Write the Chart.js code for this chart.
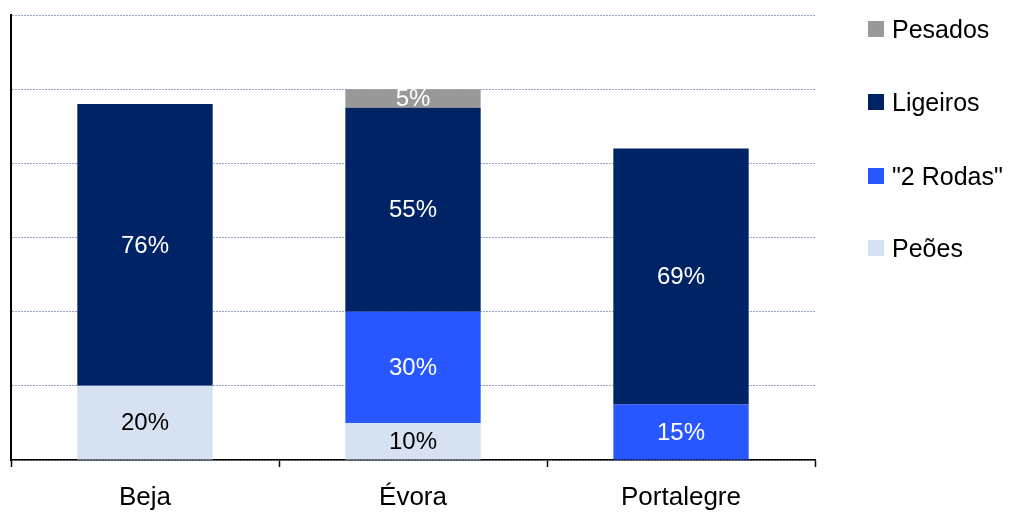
<!DOCTYPE html>
<html>
<head>
<meta charset="utf-8">
<script src="https://cdn.jsdelivr.net/npm/chart.js@4.4.0/dist/chart.umd.min.js"></script>
<style>
  html, body { margin: 0; padding: 0; background: #fff; }
  #wrap { position: relative; width: 1010px; height: 513px; }
  #legend { position: absolute; left: 868px; top: 0; font-family: 'Liberation Sans', Arial, sans-serif; font-size: 25px; color: #000; }
  .lg-item { position: absolute; left: 0; height: 30px; display: flex; align-items: center; white-space: nowrap; }
  .lg-box { width: 16px; height: 16px; margin-right: 8px; flex: none; }
</style>
</head>
<body>
<div id="wrap">
  <canvas id="chart" width="1010" height="513"></canvas>
  <div id="legend"></div>
</div>
<script>
/* ── Data ───────────────────────────────────────────────────── */
const CATEGORIES = ['Beja', 'Évora', 'Portalegre'];
const PEOES      = [20, 10, null];
const DUAS_RODAS = [null, 30, 15];
const LIGEIROS   = [76, 55, 69];
const PESADOS    = [null, 5, null];
const Y_TICKS    = [0, 20, 40, 60, 80, 100, 120];

/* ── Series (bottom → top) ──────────────────────────────────── */
const SERIES = [
  { label: 'Peões',      data: PEOES,      color: '#d6e2f2', text: '#000000' },
  { label: '"2 Rodas"',  data: DUAS_RODAS, color: '#2957ff', text: '#ffffff' },
  { label: 'Ligeiros',   data: LIGEIROS,   color: '#002366', text: '#ffffff' },
  { label: 'Pesados',    data: PESADOS,    color: '#999999', text: '#ffffff' },
];

const FONT = "'Liberation Sans', Arial, sans-serif";

/* ── Value labels inside each segment ───────────────────────── */
const segmentLabels = {
  id: 'segmentLabels',
  afterDatasetsDraw(chart) {
    const { ctx } = chart;
    ctx.save();
    ctx.font = `24px ${FONT}`;
    ctx.textAlign = 'center';
    ctx.textBaseline = 'middle';
    chart.data.datasets.forEach((ds, i) => {
      const meta = chart.getDatasetMeta(i);
      meta.data.forEach((bar, j) => {
        const v = ds.data[j];
        if (!v) return;
        ctx.fillStyle = SERIES[i].text;
        ctx.fillText(v + '%', bar.x, (bar.y + bar.base) / 2 + 1);
      });
    });
    ctx.restore();
  },
};

new Chart(document.getElementById('chart'), {
  type: 'bar',
  data: {
    labels: CATEGORIES,
    datasets: SERIES.map(s => ({
      label: s.label,
      data: s.data,
      backgroundColor: s.color,
      borderWidth: 0,
      categoryPercentage: 1,
      barPercentage: 0.505,
    })),
  },
  options: {
    responsive: false,
    animation: false,
    layout: { padding: { left: 11, right: 195, top: 15, bottom: 0 } },
    plugins: { legend: { display: false }, tooltip: { enabled: false } },
    scales: {
      x: {
        stacked: true,
        afterFit: axis => { axis.height = 53; },
        border: { display: true, color: '#000', width: 1.5 },
        grid: { drawOnChartArea: false, drawTicks: true, tickLength: 7, tickColor: '#000', tickWidth: 1.5 },
        ticks: { color: '#000', padding: 15, font: { family: FONT, size: 26 } },
      },
      y: {
        stacked: true,
        min: Y_TICKS[0],
        max: Y_TICKS[Y_TICKS.length - 1],
        afterBuildTicks: axis => { axis.ticks = Y_TICKS.map(v => ({ value: v })); },
        border: { display: true, color: '#000', width: 2, dash: [2, 1] },
        grid: { color: '#97a5c9', lineWidth: 1, drawTicks: false },
        ticks: { display: false },
      },
    },
  },
  plugins: [segmentLabels],
});

/* ── Legend (top → bottom, reverse of stacking) ─────────────── */
const LEGEND_Y = [29, 102, 176, 248];
document.getElementById('legend').innerHTML = SERIES.slice().reverse().map((s, i) =>
  `<div class="lg-item" style="top:${LEGEND_Y[i] - 15}px">
     <span class="lg-box" style="background:${s.color}"></span>${s.label}
   </div>`).join('');
</script>
</body>
</html>
